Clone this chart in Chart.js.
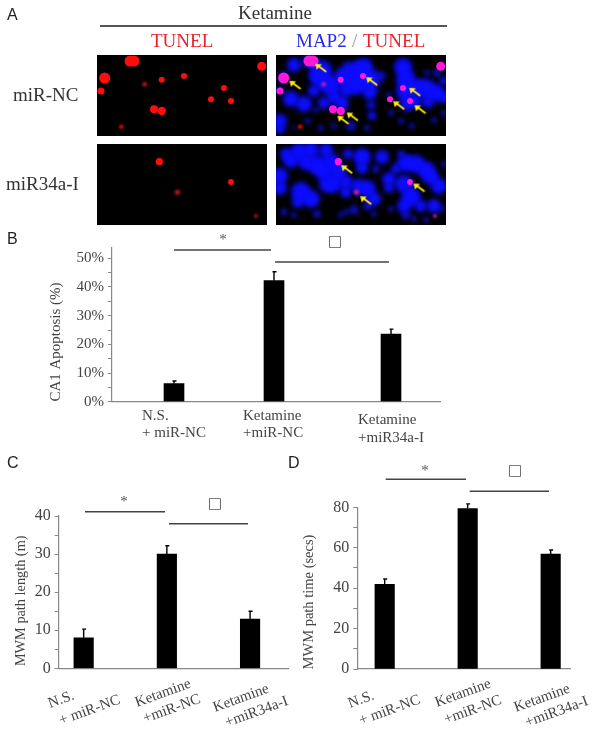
<!DOCTYPE html>
<html>
<head>
<meta charset="utf-8">
<script src="https://cdn.jsdelivr.net/npm/chart.js@4"></script>
<style>
  html, body { margin: 0; padding: 0; background: #fff; }
  #page { position: relative; width: 600px; height: 738px; overflow: hidden; filter: blur(0.35px); }
  #page canvas { position: absolute; }
  .t { position: absolute; white-space: nowrap; font-family: "Liberation Serif", serif; font-size: 19px; line-height: 22px; color: #333; }
  .s { font-family: "Liberation Sans", sans-serif; font-size: 16px; line-height: 16px; color: #222; }
  .rule { position: absolute; height: 1.5px; background: #555; }
</style>
</head>
<body>
<div id="page">
  <div class="t s" style="left:7px;top:7px">A</div>
  <div class="t s" style="left:7px;top:231px">B</div>
  <div class="t s" style="left:7px;top:455px">C</div>
  <div class="t s" style="left:288px;top:455px">D</div>
  <div class="t" style="left:238px;top:2px">Ketamine</div>
  <div class="rule" style="left:100px;top:25px;width:347px"></div>
  <div class="t" style="left:151px;top:30px;color:#e8232a">TUNEL</div>
  <div class="t" style="left:296px;top:30px;color:#2a2ae8">MAP2</div>
  <div class="t" style="left:352px;top:30px;color:#999">/</div>
  <div class="t" style="left:363px;top:30px;color:#e8232a">TUNEL</div>
  <div class="t" style="left:13px;top:84px">miR-NC</div>
  <div class="t" style="left:6px;top:173px">miR34a-I</div>
</div>
<script>
// Panel B
const categoriesB = [['N.S.', '+ miR-NC'], ['Ketamine', '+miR-NC'], ['Ketamine', '+miR34a-I']]
const groupsB = [1, 2, 3.17]
const valuesB = [6.3, 42.2, 23.6]
const errorTopsB = [7.2, 45.3, 25.3]

// Panel C
const categoriesC = [['N.S.', '+ miR-NC'], ['Ketamine', '+miR-NC'], ['Ketamine', '+miR34a-I']]
const groupsC = [1, 2, 3]
const valuesC = [8.0, 30.0, 12.9]
const errorTopsC = [10.3, 32.2, 15.0]

// Panel D
const categoriesD = [['N.S.', '+ miR-NC'], ['Ketamine', '+miR-NC'], ['Ketamine', '+miR34a-I']]
const groupsD = [1, 2, 3]
const valuesD = [41.9, 79.4, 56.8]
const errorTopsD = [44.5, 81.7, 58.9]

// Panel A, x / y / radius
const spotsNC = [
  {x: 33, y: 6, r: 5.5}, {x: 37, y: 6, r: 5.5}, {x: 7.7, y: 23, r: 5.5}, {x: 4, y: 36, r: 3.5},
  {x: 64.7, y: 24.7, r: 3}, {x: 87, y: 21, r: 3}, {x: 127, y: 33, r: 3}, {x: 114, y: 44.3, r: 3},
  {x: 134, y: 46, r: 3}, {x: 57, y: 54.3, r: 4}, {x: 64.7, y: 56, r: 4.2}, {x: 164.7, y: 11.3, r: 4.5}
]
const dimSpotsNC = [{x: 47.7, y: 29.3, r: 2.5}]
const redSpotNC = [{x: 24.3, y: 71.7, r: 2.3}]
const spotsI = [{x: 62.3, y: 17.7, r: 3.6}, {x: 134, y: 38, r: 2.9}]
const dimSpotsI = [{x: 80.5, y: 48.3, r: 2.8}, {x: 159, y: 72, r: 2}]

const blueNC = [
  {x: 18, y: 10, r: 7}, {x: 33, y: 6, r: 7}, {x: 45, y: 16, r: 11}, {x: 50, y: 28, r: 10}, {x: 42, y: 22, r: 9},
  {x: 56, y: 32, r: 8}, {x: 7, y: 22, r: 5}, {x: 15, y: 44, r: 8}, {x: 28, y: 49, r: 8}, {x: 38, y: 36, r: 6},
  {x: 4, y: 66, r: 7}, {x: 4, y: 74, r: 5}, {x: 68, y: 22, r: 10}, {x: 80, y: 16, r: 10}, {x: 88, y: 12, r: 9},
  {x: 92, y: 25, r: 12}, {x: 80, y: 30, r: 10}, {x: 70, y: 35, r: 7}, {x: 94, y: 38, r: 7}, {x: 95, y: 50, r: 4},
  {x: 96, y: 60, r: 3}, {x: 58, y: 42, r: 7}, {x: 66, y: 48, r: 7}, {x: 48, y: 48, r: 6}, {x: 127, y: 12, r: 9},
  {x: 130, y: 24, r: 10}, {x: 130, y: 36, r: 10}, {x: 132, y: 48, r: 8}, {x: 142, y: 33, r: 9}, {x: 150, y: 34, r: 10},
  {x: 160, y: 38, r: 9}, {x: 152, y: 47, r: 6}, {x: 140, y: 46, r: 6}, {x: 168, y: 42, r: 6}, {x: 168, y: 26, r: 4}
]
const dimBlueNC = [
  {x: 96, y: 61, r: 4}, {x: 40, y: 55, r: 3}, {x: 75, y: 71, r: 5}, {x: 58, y: 71, r: 3}, {x: 91, y: 73, r: 3},
  {x: 115, y: 58, r: 3}, {x: 113, y: 40, r: 3}, {x: 161, y: 18, r: 4}, {x: 151, y: 18, r: 3}, {x: 136, y: 71, r: 3},
  {x: 125, y: 66, r: 3}, {x: 158, y: 65, r: 3}, {x: 168, y: 58, r: 3}, {x: 32, y: 66, r: 3}, {x: 18, y: 73, r: 2},
  {x: 45, y: 73, r: 3}, {x: 105, y: 21, r: 5}, {x: 71, y: 11, r: 5}, {x: 4, y: 35, r: 4}
]
const blueI = [
  {x: 15, y: 16, r: 8}, {x: 23, y: 8, r: 9}, {x: 10, y: 10, r: 6}, {x: 30, y: 18, r: 8}, {x: 41, y: 21, r: 10},
  {x: 55, y: 18, r: 9}, {x: 48, y: 28, r: 9}, {x: 4, y: 32, r: 8}, {x: 4, y: 44, r: 7}, {x: 25, y: 48, r: 10},
  {x: 35, y: 55, r: 9}, {x: 22, y: 58, r: 6}, {x: 52, y: 40, r: 9}, {x: 62, y: 28, r: 9}, {x: 58, y: 40, r: 8},
  {x: 86, y: 13, r: 9}, {x: 86, y: 24, r: 6}, {x: 106, y: 13, r: 7}, {x: 113, y: 35, r: 7}, {x: 113, y: 44, r: 5},
  {x: 91, y: 45, r: 9}, {x: 82, y: 42, r: 7}, {x: 98, y: 55, r: 7}, {x: 92, y: 62, r: 4}, {x: 130, y: 19, r: 9},
  {x: 140, y: 20, r: 9}, {x: 150, y: 26, r: 9}, {x: 128, y: 40, r: 9}, {x: 135, y: 53, r: 10}, {x: 128, y: 62, r: 7},
  {x: 155, y: 33, r: 8}, {x: 163, y: 42, r: 8}, {x: 145, y: 62, r: 6}, {x: 158, y: 62, r: 7}, {x: 70, y: 38, r: 7},
  {x: 70, y: 48, r: 6}, {x: 72, y: 10, r: 5}, {x: 35, y: 6, r: 8}, {x: 50, y: 6, r: 7}, {x: 120, y: 25, r: 5}
]
const dimBlueI = [
  {x: 8, y: 68, r: 3.5}, {x: 18, y: 71, r: 3}, {x: 41, y: 70, r: 4}, {x: 78, y: 66, r: 5}, {x: 65, y: 71, r: 3},
  {x: 98, y: 70, r: 3}, {x: 115, y: 65, r: 3}, {x: 130, y: 71, r: 5}, {x: 138, y: 75, r: 3}, {x: 150, y: 76, r: 3},
  {x: 166, y: 65, r: 3}, {x: 125, y: 10, r: 4}, {x: 70, y: 68, r: 3}, {x: 100, y: 25, r: 4}, {x: 168, y: 20, r: 3}
]
const arrowsNC = [
  {x: 44.7, y: 13.3}, {x: 19, y: 30.3}, {x: 95.7, y: 26.7}, {x: 138.7, y: 37.3},
  {x: 122.7, y: 50.7}, {x: 144, y: 54.7}, {x: 67, y: 65.3}, {x: 76.3, y: 62}
]
const arrowsI = [{x: 70.7, y: 25.7}, {x: 143, y: 44}, {x: 89.7, y: 56.7}]

const page = document.getElementById('page')

function addCanvas(left, top, w, h) {
  const c = document.createElement('canvas')
  c.width = w
  c.height = h
  c.style.left = left + 'px'
  c.style.top = top + 'px'
  c.style.width = w + 'px'
  c.style.height = h + 'px'
  page.appendChild(c)
  return c
}

// yellow arrow with its head at the upper left, used as a point style
function makeArrow() {
  const c = document.createElement('canvas')
  c.width = 13
  c.height = 11
  const ctx = c.getContext('2d')
  ctx.strokeStyle = '#ffee10'
  ctx.fillStyle = '#ffee10'
  ctx.lineWidth = 1.8
  ctx.beginPath()
  ctx.moveTo(4, 3)
  ctx.lineTo(12, 9)
  ctx.stroke()
  ctx.beginPath()
  ctx.moveTo(1, 1)
  ctx.lineTo(7.5, 1.5)
  ctx.lineTo(2.5, 7)
  ctx.closePath()
  ctx.fill()
  return c
}
const arrow = makeArrow()

const softBlur = {
  id: 'softBlur',
  beforeDatasetDraw(chart, args) {
    chart.ctx.save()
    chart.ctx.filter = 'blur(' + (chart.data.datasets[args.index].blur || 0) + 'px)'
  },
  afterDatasetDraw(chart) {
    chart.ctx.restore()
  }
}

function bubbles(data, color, blur) {
  return {type: 'bubble', data: data, backgroundColor: color, borderWidth: 0, blur: blur, clip: false}
}

function micrograph(left, top, layers) {
  // Chart.js paints the first dataset last, so the list is given bottom-up and reversed here
  new Chart(addCanvas(left, top, 170, 81), {
    type: 'bubble',
    data: {datasets: layers.slice().reverse()},
    options: {
      responsive: false,
      animation: false,
      devicePixelRatio: 1,
      layout: {padding: 0, autoPadding: false},
      plugins: {legend: {display: false}, tooltip: {enabled: false}},
      scales: {
        x: {type: 'linear', min: 0, max: 170, display: false},
        y: {type: 'linear', min: 0, max: 81, reverse: true, display: false}
      }
    },
    plugins: [softBlur, {
      id: 'blackField',
      beforeDraw(chart) {
        chart.ctx.fillStyle = '#000'
        chart.ctx.fillRect(0, 0, chart.width, chart.height)
      }
    }]
  })
}

function arrows(data) {
  return {type: 'scatter', data: data, pointStyle: arrow, pointRadius: 6, blur: 0.3}
}

micrograph(97, 55, [
  bubbles(dimSpotsNC, '#a01818', 0.8),
  bubbles(redSpotNC, '#d01010', 0.8),
  bubbles(spotsNC, '#ff0c0c', 0.7)
])
micrograph(276, 55, [
  bubbles(dimBlueNC, '#0c0cb0', 2),
  bubbles(blueNC, '#0c0cff', 2.4),
  bubbles(dimSpotsNC, '#a020b8', 0.8),
  bubbles(redSpotNC, '#e01010', 0.8),
  bubbles(spotsNC, '#ff18d8', 0.7),
  arrows(arrowsNC)
])
micrograph(97, 144, [
  bubbles(dimSpotsI, '#a81414', 0.8),
  bubbles(spotsI, '#ff0c0c', 0.7)
])
micrograph(276, 144, [
  bubbles(dimBlueI, '#0c0cb0', 2),
  bubbles(blueI, '#0c0cff', 2.4),
  bubbles(dimSpotsI, '#b020a8', 0.8),
  bubbles(spotsI, '#ff18e0', 0.7),
  arrows(arrowsI)
])

// Bar panels sit on one page-sized canvas each, so all extras use page coordinates
function barPanel(p) {
  const decor = {
    id: 'decor',
    afterDatasetsDraw(chart) {
      const ctx = chart.ctx
      const xs = chart.scales.x
      const ys = chart.scales.y
      ctx.save()

      // error bars
      ctx.strokeStyle = '#000'
      ctx.lineWidth = 1.4
      p.errorTops.forEach((top, i) => {
        const x = xs.getPixelForValue(p.groups[i])
        ctx.beginPath()
        ctx.moveTo(x, ys.getPixelForValue(p.values[i]))
        ctx.lineTo(x, ys.getPixelForValue(top))
        ctx.moveTo(x - 1.5, ys.getPixelForValue(top))
        ctx.lineTo(x + 2.5, ys.getPixelForValue(top))
        ctx.stroke()
      })

      // significance lines
      ctx.strokeStyle = '#444'
      ctx.lineWidth = 1.4
      p.rules.forEach(r => {
        ctx.beginPath()
        ctx.moveTo(r[0], r[2])
        ctx.lineTo(r[1], r[2])
        ctx.stroke()
      })
      ctx.textAlign = 'center'
      ctx.textBaseline = 'middle'
      ctx.fillStyle = '#555'
      ctx.font = '15px "Liberation Serif"'
      ctx.fillText('*', p.star[0], p.star[1])
      ctx.font = '15px "DejaVu Sans"'
      ctx.fillText('\u25A1', p.box[0], p.box[1])

      // axis title
      ctx.save()
      ctx.translate(p.title.x, p.title.y)
      ctx.rotate(-Math.PI / 2)
      ctx.fillStyle = '#444'
      ctx.font = p.title.size + 'px "Liberation Serif"'
      ctx.fillText(p.title.text, 0, 0)
      ctx.restore()

      // group labels
      ctx.fillStyle = '#444'
      ctx.font = '15px "Liberation Serif"'
      ctx.textAlign = 'left'
      ctx.textBaseline = 'alphabetic'
      p.categories.forEach((lines, i) => {
        lines.forEach((line, j) => {
          const at = p.labelAt[i][j]
          ctx.save()
          ctx.translate(at[0], at[1])
          ctx.rotate(p.labelAngle * Math.PI / 180)
          ctx.fillText(line, 0, 0)
          ctx.restore()
        })
      })
      ctx.restore()
    }
  }

  new Chart(addCanvas(0, 0, 600, 738), {
    type: 'bar',
    data: {
      datasets: [{
        data: p.values.map((v, i) => ({x: p.groups[i], y: v})),
        backgroundColor: '#000',
        barThickness: p.barWidth
      }]
    },
    options: {
      responsive: false,
      animation: false,
      devicePixelRatio: 1,
      layout: {padding: {left: p.axisX - 60, top: p.top, right: 600 - p.right, bottom: 738 - p.bottom}},
      plugins: {legend: {display: false}, tooltip: {enabled: false}},
      scales: {
        x: {
          type: 'linear',
          offset: false,
          min: p.xMin,
          max: p.xMax,
          ticks: {display: false},
          grid: {display: false},
          border: {color: '#888', width: 1.2},
          afterFit(scale) { scale.height = 0 }
        },
        y: {
          min: 0,
          max: p.yMax,
          grid: {drawOnChartArea: false, tickLength: 4, color: '#888'},
          border: {color: '#888', width: 1.2},
          ticks: {
            stepSize: p.step,
            includeBounds: false,
            autoSkip: false,
            padding: p.tickPad,
            color: '#444',
            font: {family: 'Liberation Serif', size: p.tickSize},
            callback: v => (v % p.labelEvery === 0 ? v + p.suffix : '')
          },
          afterFit(scale) { scale.width = 60 }
        }
      }
    },
    plugins: [decor]
  })
}

barPanel({
  categories: categoriesB, groups: groupsB, values: valuesB, errorTops: errorTopsB,
  axisX: 112, right: 440, top: 248, bottom: 401.7, xMin: 0.38, xMax: 3.66, barWidth: 20,
  yMax: 53.6, step: 5, labelEvery: 10, suffix: '%', tickSize: 15, tickPad: 4,
  rules: [[174, 271, 250], [275, 389, 262]], star: [223, 240], box: [335, 242],
  title: {text: 'CA1 Apoptosis (%)', size: 15, x: 56, y: 342},
  labelAngle: 0,
  labelAt: [[[142, 420], [142, 437]], [[243, 420], [243, 437]], [[358, 424], [358, 442]]]
})

barPanel({
  categories: categoriesC, groups: groupsC, values: valuesC, errorTops: errorTopsC,
  axisX: 58.7, right: 288, top: 516, bottom: 668.3, xMin: 0.7, xMax: 3.456, barWidth: 19.5,
  yMax: 40, step: 5, labelEvery: 10, suffix: '', tickSize: 16, tickPad: 4,
  rules: [[85, 165, 511.7], [169, 248, 523.7]], star: [124, 502], box: [215, 504],
  title: {text: 'MWM path length (m)', size: 14.3, x: 21.7, y: 600.8},
  labelAngle: -20,
  labelAt: [[[50, 708], [61, 725]], [[137, 707], [145, 723]], [[215, 712], [227, 727]]]
})

barPanel({
  categories: categoriesD, groups: groupsD, values: valuesD, errorTops: errorTopsD,
  axisX: 357.3, right: 570, top: 507.3, bottom: 669, xMin: 0.67, xMax: 3.233, barWidth: 19.5,
  yMax: 80, step: 10, labelEvery: 20, suffix: '', tickSize: 16, tickPad: 4,
  rules: [[385.7, 466, 479.3], [469.7, 549, 491.3]], star: [425, 471], box: [515, 471],
  title: {text: 'MWM path time (secs)', size: 14.5, x: 309, y: 602},
  labelAngle: -20,
  labelAt: [[[350, 708], [361, 725]], [[437, 707], [446, 724]], [[516, 712], [527, 727]]]
})
</script>
</body>
</html>
